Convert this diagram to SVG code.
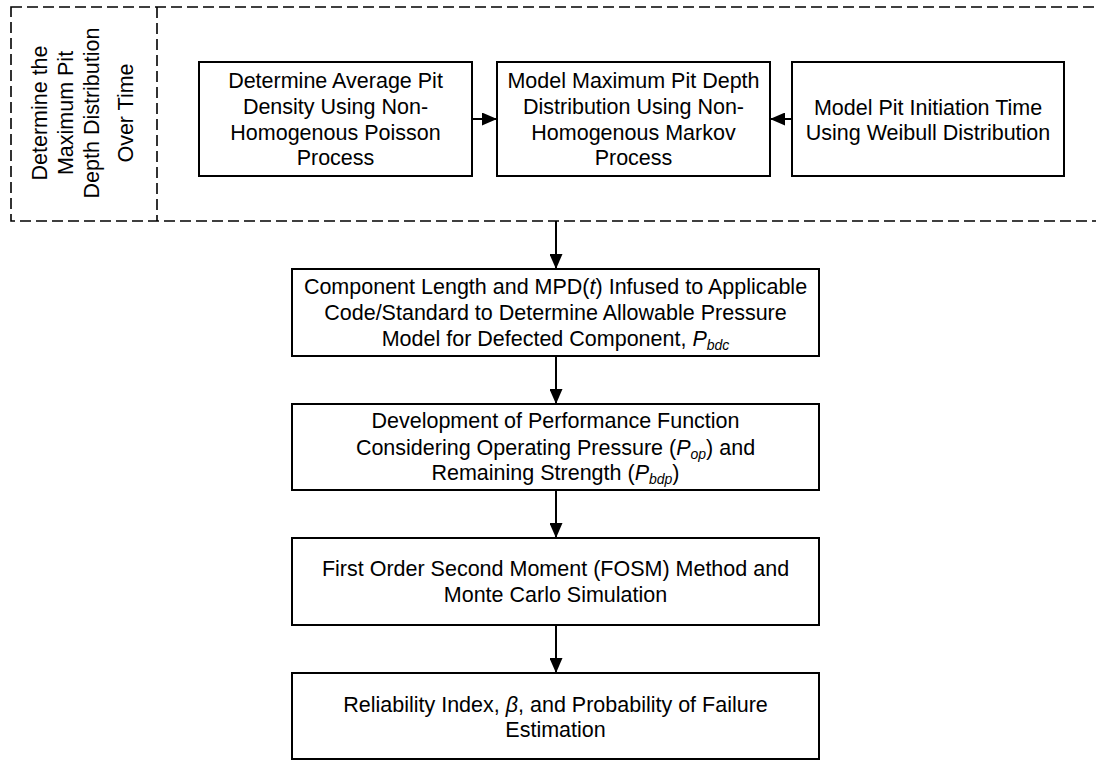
<svg xmlns="http://www.w3.org/2000/svg" width="1096" height="761" viewBox="0 0 1096 761">
<style>
.box{fill:#fff;stroke:#000;stroke-width:2}
.dash{fill:none;stroke:#000;stroke-width:1.6;stroke-dasharray:11 5}
.t{font-family:"Liberation Sans",Arial,sans-serif;font-size:21.5px;fill:#000;text-anchor:middle}
.i{font-style:italic}
.sub{font-size:14px;font-style:italic}
.con{stroke:#000;stroke-width:2;fill:none;marker-end:url(#ah)}
</style>
<defs>
<marker id="ah" markerWidth="15" markerHeight="13" refX="15" refY="6.5" orient="auto" markerUnits="userSpaceOnUse">
<path d="M0,0 L15,6.5 L0,13 Z" fill="#000"/>
</marker>
</defs>
<rect width="1096" height="761" fill="#fff"/>
<g id="group-frame">
<rect class="dash" x="11" y="7" width="1095" height="214"/>
<line class="dash" x1="157" y1="7" x2="157" y2="221"/>
<text class="t" transform="translate(47,113) rotate(-90)">Determine the</text>
<text class="t" transform="translate(73,113) rotate(-90)">Maximum Pit</text>
<text class="t" transform="translate(99,113) rotate(-90)">Depth Distribution</text>
<text class="t" transform="translate(133,113) rotate(-90)">Over Time</text>
</g>
<g id="node-density">
<rect class="box" x="199" y="62" width="273" height="114"/>
<text class="t" x="335.5" y="88">Determine Average Pit</text>
<text class="t" x="335.5" y="114">Density Using Non-</text>
<text class="t" x="335.5" y="140">Homogenous Poisson</text>
<text class="t" x="335.5" y="165">Process</text>
</g>
<g id="node-markov">
<rect class="box" x="497" y="62" width="273" height="114"/>
<text class="t" x="633.5" y="88">Model Maximum Pit Depth</text>
<text class="t" x="633.5" y="114">Distribution Using Non-</text>
<text class="t" x="633.5" y="140">Homogenous Markov</text>
<text class="t" x="633.5" y="165">Process</text>
</g>
<g id="node-weibull">
<rect class="box" x="792" y="62" width="272" height="114"/>
<text class="t" x="928" y="115">Model Pit Initiation Time</text>
<text class="t" x="928" y="140">Using Weibull Distribution</text>
</g>
<g id="node-pressure">
<rect class="box" x="292" y="269" width="527" height="87"/>
<text class="t" x="555.5" y="294">Component Length and MPD(<tspan class="i">t</tspan>) Infused to Applicable</text>
<text class="t" x="555.5" y="320">Code/Standard to Determine Allowable Pressure</text>
<text class="t" x="555.5" y="346">Model for Defected Component, <tspan class="i">P</tspan><tspan class="sub" dy="4">bdc</tspan></text>
</g>
<g id="node-performance">
<rect class="box" x="292" y="404" width="527" height="86"/>
<text class="t" x="555.5" y="428">Development of Performance Function</text>
<text class="t" x="555.5" y="455">Considering Operating Pressure (<tspan class="i">P</tspan><tspan class="sub" dy="4">op</tspan><tspan dy="-4">) and</tspan></text>
<text class="t" x="555.5" y="480">Remaining Strength (<tspan class="i">P</tspan><tspan class="sub" dy="4">bdp</tspan><tspan dy="-4">)</tspan></text>
</g>
<g id="node-fosm">
<rect class="box" x="292" y="538" width="527" height="87"/>
<text class="t" x="555.5" y="576">First Order Second Moment (FOSM) Method and</text>
<text class="t" x="555.5" y="602">Monte Carlo Simulation</text>
</g>
<g id="node-reliability">
<rect class="box" x="292" y="673" width="527" height="86"/>
<text class="t" x="555.5" y="712">Reliability Index, <tspan class="i">β</tspan>, and Probability of Failure</text>
<text class="t" x="555.5" y="737">Estimation</text>
</g>
<g id="connectors">
<line class="con" x1="472" y1="119" x2="497" y2="119"/>
<line class="con" x1="792" y1="119" x2="770" y2="119"/>
<line class="con" x1="556" y1="221" x2="556" y2="269"/>
<line class="con" x1="556" y1="356" x2="556" y2="404"/>
<line class="con" x1="556" y1="490" x2="556" y2="538"/>
<line class="con" x1="556" y1="625" x2="556" y2="673"/>
</g>
</svg>
